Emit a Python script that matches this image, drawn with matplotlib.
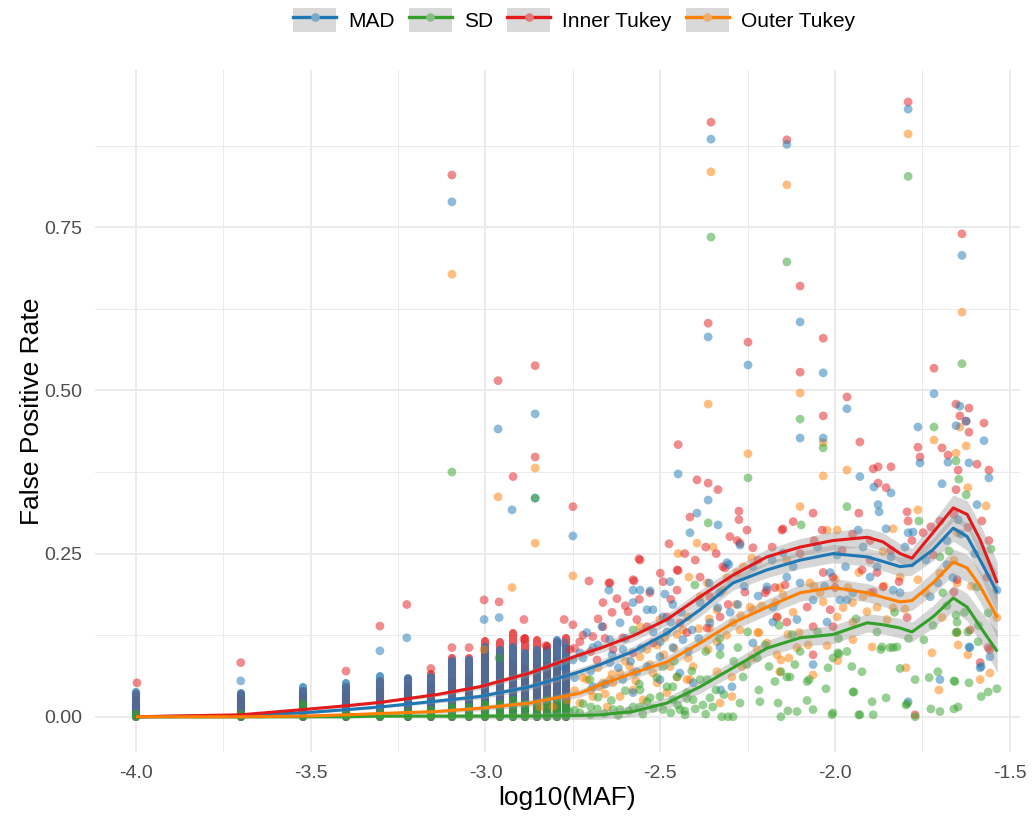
import numpy as np
import matplotlib
matplotlib.use("Agg")
import matplotlib.pyplot as plt
from matplotlib.lines import Line2D
from matplotlib.patches import Patch
from matplotlib.legend_handler import HandlerTuple
from matplotlib.colors import to_rgb
from matplotlib.ticker import FormatStrFormatter

plt.rcParams['font.family'] = ['Liberation Sans', 'DejaVu Sans']
plt.rcParams['axes.unicode_minus'] = False

methods = ["MAD", "SD", "Inner Tukey", "Outer Tukey"]
colors = {"MAD": "#1F78B4", "SD": "#33A02C", "Inner Tukey": "#E31A1C", "Outer Tukey": "#FF7F00"}

# allele-count columns at the rare end (MAF = ac / 10000) and the top of each column
stack_ac = list(range(1, 18))
n_chrom = 10000
mad_stack = [0.038, 0.037, 0.045, 0.052, 0.062, 0.060, 0.061, 0.086, 0.087, 0.107, 0.102, 0.107,
             0.098, 0.102, 0.102, 0.118, 0.105]
sd_stack = [0.004, 0.004, 0.020, 0.005, 0.006, 0.008, 0.010, 0.015, 0.015, 0.020, 0.020, 0.025,
            0.020, 0.020, 0.025, 0.025, 0.020]
inner_stack = [0.035, 0.035, 0.040, 0.045, 0.055, 0.058, 0.065, 0.090, 0.090, 0.116, 0.115, 0.129,
               0.120, 0.118, 0.109, 0.115, 0.120]
outer_stack = [0.025, 0.025, 0.030, 0.035, 0.040, 0.042, 0.045, 0.055, 0.060, 0.100, 0.080, 0.080,
               0.075, 0.075, 0.080, 0.085, 0.080]

# individual (log10 MAF, false positive rate) points
mad_pts = [
    (-3.096, 0.789), (-2.964, 0.441), (-2.924, 0.317), (-2.858, 0.464), (-2.858, 0.335), (-2.750, 0.277),
    (-2.449, 0.372), (-2.395, 0.312), (-2.415, 0.282), (-2.355, 0.885), (-2.138, 0.877), (-2.100, 0.605),
    (-1.791, 0.931), (-1.637, 0.707), (-2.363, 0.582), (-2.249, 0.539), (-2.034, 0.527), (-2.100, 0.427),
    (-2.034, 0.427), (-1.966, 0.472), (-1.929, 0.368), (-1.889, 0.352), (-1.840, 0.343), (-1.717, 0.495),
    (-1.643, 0.476), (-1.763, 0.444), (-1.654, 0.446), (-1.574, 0.423), (-1.757, 0.389), (-1.677, 0.390),
    (-1.617, 0.389), (-1.560, 0.366), (-1.694, 0.357), (-1.625, 0.453), (-3.225, 0.121), (-3.302, 0.101),
    (-3.004, 0.149), (-2.961, 0.152), (-2.775, 0.113), (-2.647, 0.194), (-2.558, 0.194), (-2.529, 0.193),
    (-2.472, 0.207), (-2.487, 0.188), (-2.363, 0.332), (-2.335, 0.294), (-2.309, 0.236), (-2.235, 0.230),
    (-2.195, 0.199), (-2.178, 0.168), (-2.138, 0.214), (-2.100, 0.205), (-2.063, 0.179), (-2.014, 0.221),
    (-1.986, 0.179), (-1.949, 0.190), (-1.934, 0.286), (-1.877, 0.325), (-1.874, 0.314), (-1.854, 0.288),
    (-1.834, 0.194), (-1.791, 0.282), (-1.777, 0.283), (-1.680, 0.233), (-1.663, 0.213), (-1.648, 0.302),
    (-1.594, 0.325), (-1.617, 0.107), (-1.557, 0.092), (-1.585, 0.075), (-1.537, 0.194), (-1.700, 0.057),
    (-1.791, 0.023), (-2.063, 0.080), (-1.614, 0.106), (-1.582, 0.077), (-2.295, 0.046), (-2.327, 0.041),
    (-2.335, 0.167), (-2.278, 0.172), (-2.178, 0.145), (-2.109, 0.149), (-2.023, 0.145), (-1.966, 0.179),
    (-1.900, 0.214), (-1.814, 0.190), (-1.728, 0.184), (-1.706, 0.205), (-1.994, 0.248), (-2.149, 0.251),
    (-2.272, 0.263), (-2.304, 0.233), (-2.235, 0.113), (-2.329, 0.107), (-2.667, 0.138), (-2.578, 0.194),
    (-2.521, 0.164), (-2.492, 0.153), (-2.386, 0.175), (-2.358, 0.144), (-2.730, 0.098), (-2.693, 0.106),
    (-2.644, 0.118), (-2.607, 0.103), (-2.644, 0.083), (-2.607, 0.057), (-2.567, 0.069), (-2.538, 0.077),
    (-2.501, 0.092), (-2.464, 0.106), (-2.435, 0.118), (-2.409, 0.133), (-2.481, 0.130), (-2.538, 0.164),
    (-2.578, 0.175), (-2.464, 0.172), (-2.615, 0.144), (-2.710, 0.129), (-2.750, 0.087), (-2.778, 0.077),
    (-2.693, 0.046), (-2.578, 0.037), (-2.501, 0.057), (-2.444, 0.067), (-2.406, 0.052), (-3.700, 0.055),
    (-2.745, 0.060), (-2.721, 0.090), (-2.699, 0.070), (-2.678, 0.110), (-2.658, 0.050), (-2.638, 0.095),
    (-2.620, 0.075), (-2.600, 0.120), (-2.585, 0.085), (-2.555, 0.105), (-2.520, 0.130), (-2.500, 0.115),
    (-2.470, 0.145), (-2.440, 0.160), (-2.420, 0.100), (-2.390, 0.120), (-2.360, 0.205), (-2.330, 0.190),
    (-2.300, 0.160), (-2.260, 0.200), (-2.220, 0.185), (-2.180, 0.240), (-2.120, 0.230), (-2.050, 0.260),
    (-2.030, 0.200), (-1.970, 0.230), (-1.920, 0.260), (-1.880, 0.230), (-1.840, 0.245), (-1.800, 0.260),
    (-1.740, 0.240), (-1.680, 0.270), (-1.640, 0.280), (-1.600, 0.250),
]
sd_pts = [
    (-3.096, 0.375), (-2.858, 0.335), (-2.355, 0.735), (-2.138, 0.697), (-1.791, 0.828), (-1.637, 0.541),
    (-2.100, 0.456), (-2.034, 0.412), (-2.249, 0.366), (-1.717, 0.444), (-1.654, 0.392), (-1.646, 0.364),
    (-1.625, 0.340), (-1.966, 0.322), (-2.097, 0.294), (-2.363, 0.297), (-1.760, 0.300), (-1.674, 0.254),
    (-1.554, 0.257), (-1.700, 0.245), (-1.562, 0.159), (-1.594, 0.199), (-1.537, 0.043), (-1.582, 0.031),
    (-1.562, 0.038), (-1.651, 0.130), (-1.692, 0.190), (-1.651, 0.145), (-1.654, 0.156), (-1.660, 0.055),
    (-1.648, 0.015), (-1.660, 0.012), (-1.726, 0.012), (-1.700, 0.008), (-1.771, 0.057), (-1.706, 0.069),
    (-1.814, 0.074), (-1.794, 0.020), (-1.771, 0.000), (-1.854, 0.029), (-1.894, 0.023), (-1.843, 0.106),
    (-1.823, 0.107), (-1.869, 0.103), (-1.923, 0.069), (-1.952, 0.077), (-1.946, 0.038), (-1.891, 0.003),
    (-1.932, 0.003), (-2.009, 0.003), (-2.063, 0.011), (-2.109, 0.008), (-2.155, 0.000), (-2.218, 0.041),
    (-2.215, 0.023), (-2.080, 0.025), (-2.026, 0.043), (-1.989, 0.096), (-1.966, 0.100), (-2.006, 0.090),
    (-2.020, 0.075), (-2.074, 0.057), (-2.172, 0.054), (-2.129, 0.061), (-2.155, 0.069), (-2.189, 0.077),
    (-2.123, 0.126), (-2.252, 0.080), (-2.263, 0.061), (-2.272, 0.021), (-2.318, 0.034), (-2.306, 0.000),
    (-2.341, 0.041), (-2.358, 0.029), (-2.386, 0.057), (-2.378, 0.018), (-2.424, 0.028), (-2.429, 0.003),
    (-2.452, 0.061), (-2.481, 0.046), (-2.558, 0.041), (-2.529, 0.029), (-2.558, 0.015), (-2.615, 0.011),
    (-2.324, 0.000), (-2.292, 0.000), (-2.163, 0.021), (-2.135, 0.009), (-2.006, 0.006), (-1.929, 0.003),
    (-1.949, 0.038), (-1.797, 0.018), (-1.617, 0.052), (-1.657, 0.054), (-1.731, 0.060), (-2.080, 0.054),
    (-2.115, 0.080), (-2.138, 0.061), (-2.223, 0.090), (-2.278, 0.106), (-2.329, 0.095), (-2.366, 0.057),
    (-1.992, 0.098), (-1.866, 0.107), (-1.834, 0.106), (-1.746, 0.118), (-1.654, 0.129), (-1.620, 0.130),
    (-1.591, 0.115), (-2.730, 0.006), (-2.635, 0.011), (-2.578, 0.015), (-2.538, 0.023), (-2.501, 0.031),
    (-2.464, 0.026), (-2.424, 0.037), (-2.406, 0.026), (-2.444, 0.011), (-2.492, 0.011), (-2.701, 0.057),
    (-2.578, 0.133), (-2.401, 0.202), (-2.492, 0.077), (-2.464, 0.046), (-2.961, 0.090), (-2.800, 0.004),
    (-2.760, 0.008), (-2.700, 0.003), (-2.680, 0.012), (-2.660, 0.005), (-2.620, 0.002), (-2.590, 0.009),
    (-2.550, 0.004), (-2.520, 0.013), (-2.470, 0.006), (-2.450, 0.018), (-2.430, 0.009), (-2.400, 0.012),
    (-2.370, 0.004), (-2.350, 0.015), (-2.745, 0.010), (-2.721, 0.020), (-2.699, 0.015), (-2.678, 0.030),
    (-2.640, 0.025), (-2.600, 0.040), (-2.560, 0.050), (-2.510, 0.060), (-2.460, 0.085), (-2.410, 0.070),
    (-2.370, 0.100), (-2.330, 0.120), (-2.290, 0.085), (-2.250, 0.130), (-2.200, 0.110), (-2.160, 0.140),
    (-2.100, 0.100), (-2.050, 0.130), (-1.990, 0.120), (-1.940, 0.150), (-1.880, 0.130), (-1.830, 0.160),
    (-1.790, 0.120), (-1.720, 0.140), (-1.680, 0.170), (-1.630, 0.160), (-1.590, 0.140),
]
inner_pts = [
    (-3.096, 0.830), (-2.964, 0.515), (-2.921, 0.368), (-2.858, 0.538), (-2.858, 0.398), (-2.750, 0.322),
    (-2.449, 0.417), (-2.395, 0.363), (-2.415, 0.306), (-2.475, 0.265), (-2.355, 0.911), (-2.138, 0.884),
    (-2.100, 0.660), (-2.363, 0.603), (-1.791, 0.942), (-1.637, 0.740), (-2.249, 0.574), (-2.034, 0.580),
    (-2.100, 0.528), (-2.034, 0.461), (-1.966, 0.490), (-1.929, 0.421), (-1.877, 0.383), (-1.840, 0.383),
    (-1.891, 0.380), (-1.877, 0.358), (-1.854, 0.351), (-1.717, 0.534), (-1.654, 0.479), (-1.617, 0.473),
    (-1.643, 0.461), (-1.625, 0.453), (-1.574, 0.450), (-1.617, 0.436), (-1.694, 0.412), (-1.763, 0.413),
    (-1.757, 0.398), (-1.677, 0.401), (-1.594, 0.387), (-1.648, 0.378), (-1.560, 0.378), (-1.654, 0.348),
    (-3.997, 0.052), (-3.700, 0.083), (-3.399, 0.070), (-3.302, 0.139), (-3.225, 0.172), (-3.156, 0.074),
    (-3.096, 0.106), (-3.047, 0.106), (-3.004, 0.179), (-2.961, 0.176), (-2.890, 0.149), (-2.890, 0.119),
    (-2.827, 0.109), (-2.775, 0.149), (-2.750, 0.141), (-2.704, 0.208), (-2.664, 0.175), (-2.647, 0.205),
    (-2.624, 0.181), (-2.575, 0.208), (-2.561, 0.242), (-2.449, 0.224), (-2.492, 0.207), (-2.363, 0.358),
    (-2.335, 0.348), (-2.063, 0.312), (-2.120, 0.299), (-2.149, 0.288), (-2.275, 0.315), (-2.275, 0.302),
    (-2.252, 0.286), (-2.558, 0.240), (-1.932, 0.312), (-1.794, 0.314), (-1.791, 0.300), (-1.748, 0.282),
    (-1.726, 0.291), (-1.560, 0.270), (-1.565, 0.214), (-1.614, 0.133), (-1.562, 0.106), (-1.585, 0.083),
    (-1.660, 0.191), (-1.771, 0.003), (-2.644, 0.205), (-2.578, 0.210), (-2.452, 0.225), (-2.452, 0.194),
    (-2.386, 0.214), (-2.358, 0.184), (-2.321, 0.230), (-2.301, 0.276), (-2.272, 0.266), (-2.195, 0.194),
    (-2.152, 0.286), (-2.037, 0.286), (-2.006, 0.214), (-2.000, 0.198), (-1.900, 0.240), (-1.863, 0.199),
    (-1.720, 0.248), (-2.014, 0.164), (-2.063, 0.138), (-2.063, 0.095), (-1.794, 0.152), (-1.557, 0.103),
    (-2.235, 0.259), (-2.315, 0.228), (-2.172, 0.198), (-2.143, 0.202), (-2.080, 0.168), (-2.166, 0.153),
    (-2.138, 0.145), (-2.200, 0.190), (-2.258, 0.191), (-2.306, 0.172), (-2.329, 0.153), (-2.366, 0.136),
    (-2.006, 0.138), (-2.034, 0.221), (-1.923, 0.225), (-1.880, 0.221), (-1.817, 0.207), (-1.651, 0.210),
    (-1.891, 0.191), (-2.730, 0.115), (-2.693, 0.123), (-2.664, 0.138), (-2.607, 0.121), (-2.592, 0.161),
    (-2.567, 0.149), (-2.538, 0.138), (-2.481, 0.153), (-2.444, 0.144), (-2.424, 0.129), (-2.521, 0.113),
    (-2.635, 0.103), (-2.578, 0.098), (-2.758, 0.103), (-2.681, 0.087), (-2.745, 0.105), (-2.721, 0.125),
    (-2.699, 0.100), (-2.678, 0.150), (-2.658, 0.120), (-2.638, 0.160), (-2.600, 0.170), (-2.560, 0.180),
    (-2.530, 0.190), (-2.500, 0.220), (-2.470, 0.180), (-2.430, 0.250), (-2.400, 0.240), (-2.370, 0.260),
    (-2.340, 0.250), (-2.280, 0.270), (-2.220, 0.240), (-2.180, 0.260), (-2.100, 0.250), (-2.060, 0.270),
    (-1.980, 0.255), (-1.950, 0.280), (-1.900, 0.270), (-1.840, 0.255), (-1.780, 0.270), (-1.700, 0.300),
    (-1.660, 0.310), (-1.620, 0.290), (-1.580, 0.300),
]
outer_pts = [
    (-3.096, 0.678), (-2.964, 0.337), (-2.858, 0.381), (-2.858, 0.266), (-2.924, 0.198), (-2.750, 0.216),
    (-2.395, 0.266), (-2.449, 0.250), (-2.355, 0.835), (-2.138, 0.815), (-1.791, 0.893), (-1.637, 0.620),
    (-2.363, 0.479), (-2.100, 0.496), (-2.034, 0.420), (-2.249, 0.403), (-2.034, 0.369), (-1.966, 0.378),
    (-1.717, 0.424), (-1.643, 0.444), (-1.625, 0.415), (-1.654, 0.404), (-1.620, 0.351), (-2.418, 0.214),
    (-2.100, 0.322), (-1.763, 0.317), (-1.834, 0.288), (-1.568, 0.323), (-1.651, 0.282), (-1.537, 0.152),
    (-1.620, 0.095), (-1.585, 0.057), (-1.648, 0.110), (-1.651, 0.129), (-1.651, 0.205), (-1.694, 0.152),
    (-1.723, 0.098), (-1.703, 0.041), (-1.797, 0.075), (-1.894, 0.107), (-1.992, 0.086), (-2.155, 0.087),
    (-2.132, 0.090), (-2.223, 0.103), (-2.218, 0.129), (-2.238, 0.090), (-2.103, 0.129), (-2.077, 0.110),
    (-2.195, 0.113), (-2.023, 0.286), (-1.994, 0.286), (-2.238, 0.243), (-2.263, 0.230), (-2.281, 0.221),
    (-2.309, 0.213), (-2.321, 0.194), (-2.366, 0.205), (-2.386, 0.184), (-2.243, 0.168), (-2.283, 0.172),
    (-2.338, 0.164), (-2.421, 0.153), (-2.435, 0.133), (-2.452, 0.126), (-2.487, 0.121), (-2.509, 0.110),
    (-2.538, 0.103), (-2.558, 0.092), (-2.587, 0.077), (-2.615, 0.067), (-2.644, 0.057), (-2.664, 0.052),
    (-2.415, 0.057), (-2.338, 0.115), (-2.292, 0.144), (-2.158, 0.198), (-2.043, 0.190), (-1.963, 0.198),
    (-1.920, 0.184), (-1.880, 0.168), (-1.851, 0.149), (-1.949, 0.145), (-1.994, 0.153), (-1.814, 0.214),
    (-1.863, 0.253), (-2.138, 0.240), (-2.063, 0.064), (-2.158, 0.069), (-2.266, 0.077), (-2.295, 0.061),
    (-2.295, 0.031), (-2.329, 0.021), (-2.338, 0.069), (-1.557, 0.067), (-1.949, 0.118), (-2.023, 0.109),
    (-2.109, 0.106), (-2.166, 0.095), (-2.135, 0.126), (-1.977, 0.167), (-2.034, 0.176), (-1.909, 0.161),
    (-1.834, 0.167), (-1.763, 0.210), (-1.932, 0.221), (-2.072, 0.205), (-2.149, 0.187), (-2.166, 0.152),
    (-2.235, 0.164), (-2.221, 0.129), (-2.272, 0.133), (-2.358, 0.136), (-2.363, 0.103), (-2.349, 0.260),
    (-2.730, 0.021), (-2.693, 0.031), (-2.652, 0.015), (-2.615, 0.031), (-2.578, 0.041), (-2.549, 0.026),
    (-2.509, 0.052), (-2.481, 0.037), (-2.452, 0.061), (-2.424, 0.057), (-2.406, 0.077), (-2.472, 0.077),
    (-2.521, 0.067), (-2.578, 0.067), (-2.635, 0.052), (-2.672, 0.046), (-2.710, 0.057), (-2.767, 0.026),
    (-2.807, 0.015), (-2.844, 0.015), (-2.558, 0.138), (-2.501, 0.149), (-3.004, 0.103), (-2.745, 0.040),
    (-2.721, 0.060), (-2.699, 0.040), (-2.678, 0.075), (-2.658, 0.035), (-2.638, 0.065), (-2.600, 0.085),
    (-2.570, 0.055), (-2.530, 0.080), (-2.490, 0.095), (-2.460, 0.105), (-2.420, 0.090), (-2.390, 0.135),
    (-2.360, 0.150), (-2.310, 0.125), (-2.270, 0.155), (-2.210, 0.170), (-2.170, 0.175), (-2.120, 0.160),
    (-2.060, 0.200), (-2.000, 0.210), (-1.950, 0.175), (-1.900, 0.190), (-1.860, 0.200), (-1.800, 0.165),
    (-1.740, 0.190), (-1.700, 0.220), (-1.660, 0.240), (-1.610, 0.200),
]

# smoothed fits and half-width of the grey confidence band
smooth_x = [-4.000, -3.700, -3.522, -3.396, -3.302, -3.139, -3.016, -2.873, -2.730, -2.672, -2.578, -2.481, -2.386,
            -2.292, -2.195, -2.100, -2.006, -1.908, -1.863, -1.814, -1.780, -1.720, -1.662, -1.622, -1.585, -1.536]
mad_fit = [0, .002, .006, .011, .015, .024, .031, .046, .069, .080, .100, .128, .164,
           .205, .225, .240, .250, .245, .238, .230, .232, .256, .289, .276, .240, .190]
sd_fit = [0, 0, 0, 0, .001, .001, .001, .001, .002, .003, .008, .021, .046,
          .075, .105, .121, .126, .144, .141, .136, .130, .153, .182, .168, .138, .100]
inner_fit = [0, .003, .011, .017, .022, .034, .046, .067, .095, .105, .124, .149, .184,
             .217, .245, .260, .270, .275, .268, .250, .243, .282, .320, .310, .271, .205]
outer_fit = [0, 0, .001, .003, .005, .008, .013, .021, .036, .049, .067, .084, .113,
             .144, .168, .190, .198, .190, .183, .176, .178, .205, .237, .228, .200, .152]
band_hw = [.002, .002, .002, .002, .002, .003, .004, .005, .006, .007, .008, .009, .010,
           .011, .012, .013, .014, .014, .014, .015, .015, .017, .020, .021, .024, .032]

stacks = {"MAD": mad_stack, "SD": sd_stack, "Inner Tukey": inner_stack, "Outer Tukey": outer_stack}
points = {"MAD": mad_pts, "SD": sd_pts, "Inner Tukey": inner_pts, "Outer Tukey": outer_pts}
fits = {"MAD": mad_fit, "SD": sd_fit, "Inner Tukey": inner_fit, "Outer Tukey": outer_fit}

fig = plt.figure(figsize=(10.32, 8.16), dpi=100)
ax = fig.add_axes([95 / 1032, 64 / 816, 925 / 1032, 682 / 816])

stack_x = np.log10(np.array(stack_ac) / n_chrom)
for m in ["Outer Tukey", "Inner Tukey", "MAD", "SD"]:
    ax.vlines(stack_x, 0, stacks[m], colors=colors[m], lw=5.8, alpha=0.75, capstyle="round", zorder=2)

for m in ["Outer Tukey", "Inner Tukey", "MAD", "SD"]:
    p = np.array(points[m])
    ax.scatter(p[:, 0], p[:, 1], s=40, color=colors[m], alpha=0.5, edgecolors="none", zorder=3)

sx = np.array(smooth_x)
hw = np.array(band_hw)
for m in methods:
    f = np.array(fits[m])
    ax.fill_between(sx, f - hw, f + hw, color="#999999", alpha=0.4, lw=0, zorder=4)
    ax.plot(sx, f, color=colors[m], lw=2.2, zorder=5, solid_capstyle="butt")

ax.set_xlim(-4.117, -1.471)
ax.set_ylim(-0.054, 0.991)
ax.set_xticks([-4.0, -3.5, -3.0, -2.5, -2.0, -1.5])
ax.set_xticks([-3.75, -3.25, -2.75, -2.25, -1.75], minor=True)
ax.set_yticks([0, 0.25, 0.5, 0.75])
ax.set_yticks([0.125, 0.375, 0.625, 0.875], minor=True)
ax.xaxis.set_major_formatter(FormatStrFormatter("%.1f"))
ax.yaxis.set_major_formatter(FormatStrFormatter("%.2f"))
ax.grid(which="major", color="#EBEBEB", lw=1.4)
ax.grid(which="minor", color="#EBEBEB", lw=0.7)
ax.set_axisbelow(True)
for s in ax.spines.values():
    s.set_visible(False)
ax.tick_params(which="both", length=0)
ax.tick_params(labelsize=14, labelcolor="#4D4D4D", pad=9)
ax.set_xlabel("log10(MAF)", fontsize=19)
ax.xaxis.set_label_coords(0.51, -0.05)
ax.set_ylabel("False Positive Rate", fontsize=19, labelpad=0)

handles = []
for m in methods:
    c = np.array(to_rgb(colors[m]))
    light = 0.5 * c + 0.5 * np.array(to_rgb("#D9D9D9"))
    bg = Patch(facecolor="#D9D9D9", edgecolor="none")
    ln = Line2D([], [], color=colors[m], lw=2.4, marker="o", markersize=6.2,
                markerfacecolor=light, markeredgecolor="none")
    handles.append((bg, ln))
fig.legend(handles, methods, handler_map={tuple: HandlerTuple(ndivide=1, pad=0)},
           loc="center", bbox_to_anchor=(574 / 1032, 1 - 20 / 816), ncol=4, frameon=False,
           fontsize=15, handlelength=2.07, handleheight=1.44, handletextpad=0.58, columnspacing=0.67)

fig.savefig("out.png", dpi=100)
